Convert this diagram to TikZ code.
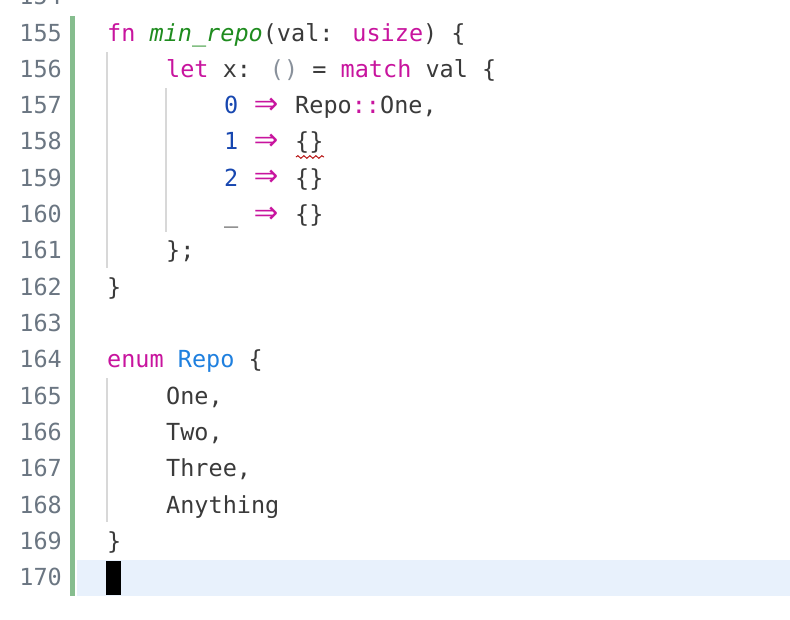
\documentclass[tikz,border=0pt]{standalone}
\usepackage{fontspec}
\setmonofont{DejaVu Sans Mono}
\setmainfont{DejaVu Sans Mono}
\usetikzlibrary{decorations.pathmorphing}
\definecolor{kw}{HTML}{C8149E}
\definecolor{fnc}{HTML}{1F8C1F}
\definecolor{num}{HTML}{1747B0}
\definecolor{ty}{HTML}{1F80DF}
\definecolor{txt}{HTML}{3A3A3A}
\definecolor{lnum}{HTML}{6B7682}
\definecolor{gbar}{HTML}{86BD8E}
\definecolor{hl}{HTML}{E8F1FC}
\definecolor{guide}{HTML}{D8D8D8}
\newcommand{\K}[1]{\textcolor{kw}{#1}}
\newcommand{\N}[1]{\textcolor{num}{#1}}
\newcommand{\Ar}{\makebox[28.6pt]{\textcolor{kw}{\fontsize{40}{40}\selectfont\raisebox{-1.5pt}{⇒}}}}
\begin{document}
\begin{tikzpicture}[x=1pt,y=-1pt,
  code/.style={anchor=base west,inner sep=0,text=txt,font=\fontsize{23.5}{24}\selectfont},
  ln/.style={anchor=base east,inner sep=0,text=lnum,font=\fontsize{23.5}{24}\selectfont}]
\useasboundingbox (0,0) rectangle (790,619);
\clip (0,0) rectangle (790,619);
\fill[white] (0,0) rectangle (790,619);
\fill[hl] (77,560) rectangle (790,596);
\fill[gbar] (70,16) rectangle (75,596);
\fill[black] (106,561) rectangle (121,595);
\draw[guide,line width=1.2pt] (107,52) -- (107,268);
\draw[guide,line width=1.2pt] (166,88) -- (166,232);
\draw[guide,line width=1.2pt] (107,378) -- (107,522);
% line numbers
\foreach \i [count=\k from 0] in {154,...,170}{
  \node[ln] (l\i) at (62,{41+36.33*(\k-1)}) {\i};
}
\node[code] (c155) at (107,41) {\K{fn} \textcolor{fnc}{\itshape min\_repo}(val: \K{usize}) \{};
\node[code] (c156) at (166,{41+36.33}) {\K{let} x: \textcolor{lnum!80}{()} = \K{match} val \{};
\node[code] (c157) at (224,{41+36.33*2}) {\N{0} \Ar{} Repo\K{::}One,};
\node[code] (c158) at (224,{41+36.33*3}) {\N{1} \Ar{} \{\}};
\node[code] (c159) at (224,{41+36.33*4}) {\N{2} \Ar{} \{\}};
\node[code] (c160) at (224,{41+36.33*5}) {\_ \Ar{} \{\}};
\node[code] (c161) at (166,{41+36.33*6}) {\};};
\node[code] (c162) at (107,{41+36.33*7}) {\}};
\node[code] (c164) at (107,{41+36.33*9}) {\K{enum} \textcolor{ty}{Repo} \{};
\node[code] (c165) at (166,{41+36.33*10}) {One,};
\node[code] (c166) at (166,{41+36.33*11}) {Two,};
\node[code] (c167) at (166,{41+36.33*12}) {Three,};
\node[code] (c168) at (166,{41+36.33*13}) {Anything};
\node[code] (c169) at (107,{41+36.33*14}) {\}};
\draw[red!70!black,line width=0.9pt,decorate,decoration={snake,amplitude=1.3pt,segment length=6pt}] (296,157) -- (324,157);
\end{tikzpicture}
\end{document}
